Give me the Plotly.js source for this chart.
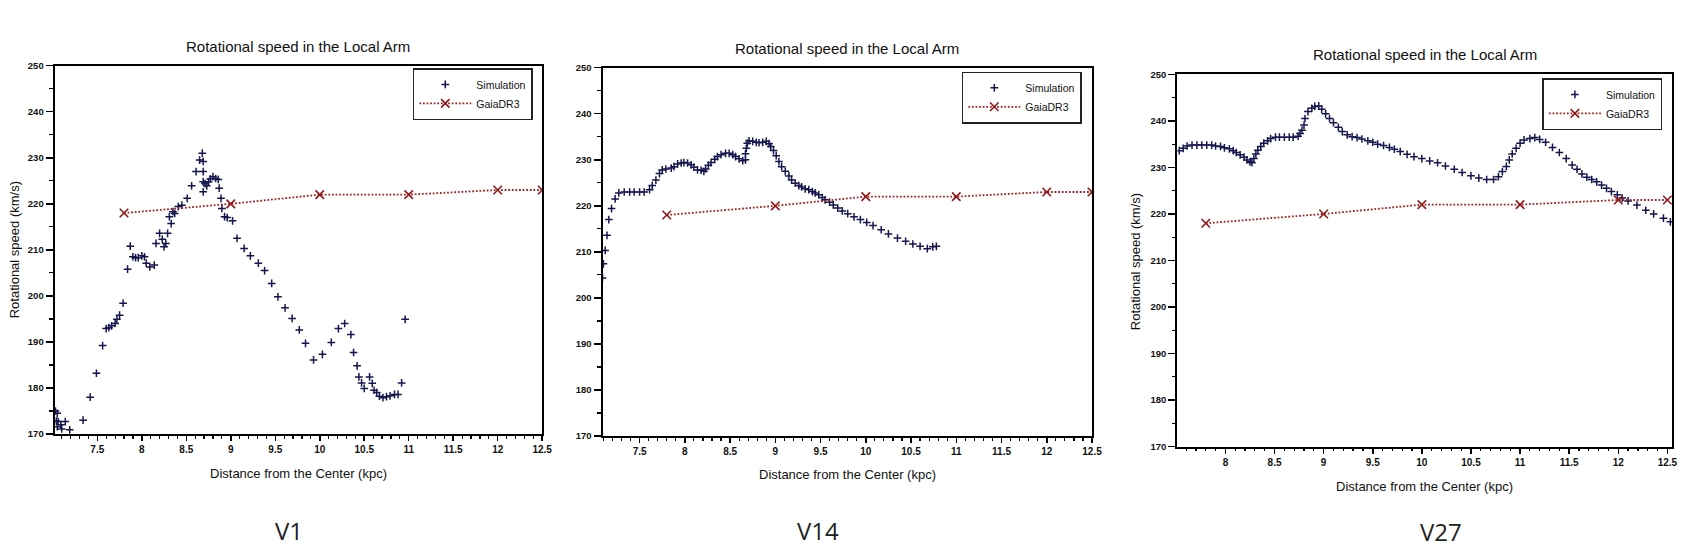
<!DOCTYPE html>
<html>
<head>
<meta charset="utf-8">
<script src="https://cdn.plot.ly/plotly-3.0.1.min.js"></script>
<style>
  html, body { margin: 0; padding: 0; background: #ffffff; }
  #chart { width: 1689px; height: 555px; }
</style>
</head>
<body>
<div id="chart"></div>
<script>
// ---------- data ----------
const gaia_r = [7.8, 9, 10, 11, 12, 12.5];
const gaia_v = [218, 220, 222, 222, 223, 223];

const v1_r = [7.03, 7.05, 7.04, 7.06, 7.09, 7.10, 7.05, 7.14, 7.19, 7.34, 7.42, 7.49, 7.56, 7.60, 7.63, 7.66, 7.70, 7.72, 7.75, 7.79,
  7.84, 7.87, 7.90, 7.93, 7.96, 8.00, 8.03, 8.05, 8.09, 8.14, 8.16, 8.20, 8.23, 8.25, 8.27, 8.29, 8.31, 8.33, 8.35, 8.37,
  8.41, 8.45, 8.51, 8.56, 8.61, 8.65, 8.68, 8.69, 8.69, 8.69, 8.69, 8.71, 8.73, 8.75, 8.77, 8.80, 8.83, 8.86, 8.87, 8.89,
  8.90, 8.93, 8.96, 9.02, 9.07, 9.15, 9.22, 9.31, 9.38, 9.46, 9.53, 9.61, 9.69, 9.77, 9.84, 9.93, 10.03, 10.13, 10.21, 10.28,
  10.35, 10.38, 10.42, 10.44, 10.47, 10.50, 10.56, 10.59, 10.61, 10.64, 10.67, 10.71, 10.75, 10.79, 10.84, 10.88, 10.92, 10.96];
const v1_v = [175.0, 174.5, 172.8, 172.7, 172.0, 171.1, 171.6, 172.7, 170.9, 173.0, 178.0, 183.2, 189.2, 192.9, 193.1, 193.5, 194.0, 194.9, 195.8, 198.4,
  205.8, 210.8, 208.5, 208.3, 208.3, 208.7, 208.5, 207.1, 206.3, 206.7, 211.4, 213.6, 212.3, 210.7, 211.4, 213.6, 217.2, 215.7, 218.3, 217.9,
  219.4, 219.7, 221.2, 223.9, 227.0, 229.5, 231.0, 229.2, 227.0, 224.8, 222.6, 224.4, 223.9, 224.8, 225.4, 225.9, 225.5, 225.3, 223.4, 221.2,
  219.0, 217.2, 217.0, 216.3, 212.5, 210.3, 208.7, 207.1, 205.5, 202.7, 199.8, 197.4, 195.1, 192.6, 189.7, 186.1, 187.3, 189.9, 192.9, 194.0,
  191.6, 187.7, 184.8, 182.4, 181.1, 179.9, 182.4, 181.0, 179.5, 179.0, 178.2, 177.9, 178.1, 178.3, 178.6, 178.6, 181.1, 194.9];

const v14_r = [7.09, 7.10, 7.12, 7.14, 7.16, 7.19, 7.23, 7.27, 7.33, 7.39, 7.44, 7.50, 7.55, 7.61, 7.64, 7.68, 7.72, 7.75, 7.79, 7.85,
  7.88, 7.92, 7.96, 7.99, 8.03, 8.07, 8.10, 8.14, 8.18, 8.21, 8.23, 8.26, 8.29, 8.33, 8.36, 8.40, 8.45, 8.49, 8.53, 8.56,
  8.60, 8.64, 8.67, 8.67, 8.68, 8.69, 8.71, 8.75, 8.79, 8.82, 8.86, 8.90, 8.93, 8.95, 8.98, 9.01, 9.04, 9.07, 9.11, 9.15,
  9.18, 9.22, 9.26, 9.29, 9.33, 9.37, 9.41, 9.44, 9.48, 9.52, 9.55, 9.60, 9.64, 9.69, 9.74, 9.80, 9.87, 9.94, 10.01, 10.08,
  10.17, 10.25, 10.35, 10.44, 10.52, 10.60, 10.68, 10.74, 10.78];
const v14_v = [204.3, 207.4, 210.3, 213.6, 217.0, 219.4, 221.5, 222.8, 223.0, 223.0, 223.0, 223.0, 223.0, 223.5, 224.4, 225.6, 227.0, 227.8, 228.0, 228.2,
  228.5, 229.1, 229.3, 229.4, 229.3, 228.9, 228.4, 227.8, 227.7, 227.5, 228.0, 228.8, 229.4, 230.1, 230.7, 231.1, 231.4, 231.4, 231.1, 230.7,
  230.2, 229.8, 230.0, 231.3, 232.5, 233.6, 234.1, 234.0, 233.8, 233.7, 233.8, 234.0, 233.5, 232.9, 232.0, 230.9, 229.6, 228.5, 227.5, 226.5,
  225.6, 224.9, 224.4, 224.1, 223.7, 223.5, 223.1, 222.8, 222.4, 221.8, 221.3, 220.8, 220.2, 219.5, 218.9, 218.3, 217.6, 217.0, 216.4, 215.7,
  214.8, 213.9, 213.0, 212.3, 211.7, 211.2, 210.7, 211.1, 211.2];

const v27_r = [7.53, 7.57, 7.61, 7.66, 7.71, 7.76, 7.81, 7.86, 7.90, 7.95, 7.99, 8.04, 8.08, 8.11, 8.15, 8.19, 8.22, 8.25, 8.27, 8.29,
  8.31, 8.33, 8.36, 8.39, 8.43, 8.46, 8.51, 8.55, 8.60, 8.65, 8.69, 8.74, 8.76, 8.78, 8.80, 8.81, 8.84, 8.88, 8.91, 8.95,
  8.98, 9.02, 9.06, 9.10, 9.15, 9.19, 9.24, 9.29, 9.34, 9.39, 9.45, 9.50, 9.55, 9.61, 9.67, 9.72, 9.78, 9.85, 9.92, 10.00,
  10.08, 10.16, 10.24, 10.33, 10.41, 10.50, 10.58, 10.66, 10.73, 10.78, 10.82, 10.86, 10.89, 10.92, 10.96, 11.00, 11.04, 11.10, 11.15, 11.20,
  11.26, 11.33, 11.40, 11.47, 11.53, 11.58, 11.63, 11.68, 11.73, 11.78, 11.83, 11.88, 11.93, 11.99, 12.04, 12.10, 12.19, 12.28, 12.36, 12.46, 12.53];
const v27_v = [233.6, 234.1, 234.6, 234.8, 234.8, 234.8, 234.8, 234.8, 234.6, 234.5, 234.2, 234.0, 233.6, 233.2, 232.7, 232.2, 231.6, 231.2, 231.0, 231.9,
  232.9, 233.7, 234.5, 235.2, 235.7, 236.2, 236.5, 236.5, 236.5, 236.5, 236.5, 236.7, 237.3, 238.0, 239.1, 240.5, 242.0, 242.7, 243.1, 243.2,
  242.5, 241.5, 240.5, 239.6, 238.6, 237.7, 237.0, 236.6, 236.4, 236.1, 235.7, 235.4, 235.0, 234.7, 234.3, 233.9, 233.4, 232.8, 232.3, 231.9,
  231.4, 231.0, 230.3, 229.6, 228.9, 228.2, 227.7, 227.4, 227.4, 228.0, 229.1, 230.2, 231.6, 232.9, 234.1, 235.2, 235.9, 236.2, 236.4, 236.0,
  235.4, 234.3, 233.2, 231.9, 230.5, 229.6, 228.6, 227.9, 227.4, 226.9, 226.2, 225.5, 224.8, 224.1, 223.4, 222.8, 221.9, 220.8, 220.0, 219.1, 218.3];

const titleText = 'Rotational speed in the Local Arm';
const xTitleText = 'Distance from the Center (kpc)';
const yTitleText = 'Rotational speed (km/s)';
const panelNames = ['V1', 'V14', 'V27'];
const seriesNames = ['Simulation', 'GaiaDR3'];

// ---------- styling ----------
const W = 1689, H = 555;
const FONT = 'Arial, "Liberation Sans", sans-serif';
const TXT = '#111111';
const SIM_COLOR = '#16164e';
const GAIA_COLOR = '#8e1b1b';
const px = v => v / W;
const py = v => 1 - v / H;

// pixel boxes of the three plot areas [left, right, top, bottom]
const boxes = [
  [54.6, 542.2, 65.7, 434.0],
  [602.5, 1092.0, 67.7, 436.0],
  [1177.3, 1672.3, 74.3, 446.7]
];
const xRanges = [[7.02, 12.5], [7.09, 12.5], [7.51, 12.55]];
const simR = [v1_r, v14_r, v27_r];
const simV = [v1_v, v14_v, v27_v];

const traces = [];
const layout = {
  width: W, height: H,
  margin: {l: 0, r: 0, t: 0, b: 0, pad: 0},
  paper_bgcolor: '#ffffff', plot_bgcolor: '#ffffff',
  font: {family: FONT, color: TXT, size: 11},
  showlegend: true,
  annotations: []
};

const legendPos = [[412.7, 68.3], [961.7, 71.7], [1542.3, 78.3]];
const titleY = [46.5, 48.7, 54.5];
const xTitleY = [473.3, 474.5, 486.0];
const panelLabelPos = [[288.6, 530], [817.8, 530], [1441, 531]];

for (let i = 0; i < 3; i++) {
  const sfx = i === 0 ? '' : String(i + 1);
  const b = boxes[i];
  const legName = 'legend' + sfx;

  traces.push({
    type: 'scatter', mode: 'markers', name: seriesNames[0],
    x: simR[i], y: simV[i],
    xaxis: 'x' + sfx, yaxis: 'y' + sfx, legend: legName,
    marker: {symbol: 'cross-thin-open', size: 5.5, color: SIM_COLOR, line: {color: SIM_COLOR, width: 1.5}}
  });
  traces.push({
    type: 'scatter', mode: 'lines+markers', name: seriesNames[1],
    x: gaia_r, y: gaia_v,
    xaxis: 'x' + sfx, yaxis: 'y' + sfx, legend: legName,
    line: {color: '#a32222', width: 1.8, dash: '1.8px,1.8px'},
    marker: {symbol: 'x-thin-open', size: 8.5, color: GAIA_COLOR, line: {color: GAIA_COLOR, width: 1.6}}
  });

  layout['xaxis' + sfx] = {
    domain: [px(b[0]), px(b[1])], anchor: 'y' + sfx,
    range: xRanges[i], tick0: 0, dtick: 0.5,
    ticks: 'outside', ticklen: 5, tickwidth: 1.5, tickcolor: '#000',
    minor: {dtick: 0.1, ticks: 'outside', ticklen: 2.5, tickwidth: 1.2, tickcolor: '#000', showgrid: false},
    showgrid: false, zeroline: false, showline: true, mirror: true,
    linecolor: '#000', linewidth: 2,
    tickfont: {family: FONT, size: 10, color: TXT, weight: 'bold'}
  };
  layout['yaxis' + sfx] = {
    domain: [py(b[3]), py(b[2])], anchor: 'x' + sfx,
    range: [170, 250], tick0: 170, dtick: 10,
    ticks: 'outside', ticklen: 7, tickwidth: 1.5, tickcolor: '#000',
    minor: {dtick: 5, ticks: 'outside', ticklen: 3.5, tickwidth: 1.2, tickcolor: '#000', showgrid: false},
    showgrid: false, zeroline: false, showline: true, mirror: true,
    linecolor: '#000', linewidth: 2,
    tickfont: {family: FONT, size: 9.5, color: TXT, weight: 'bold'}
  };
  layout[legName] = {
    x: px(legendPos[i][0]), y: py(legendPos[i][1]), xanchor: 'left', yanchor: 'top',
    xref: 'paper', yref: 'paper',
    bgcolor: '#ffffff', bordercolor: '#222222', borderwidth: 1.6,
    font: {family: FONT, size: 10.5, color: TXT},
    itemwidth: 52, tracegroupgap: 0, traceorder: 'normal'
  };

  const cx = (b[0] + b[1]) / 2;
  layout.annotations.push({
    text: titleText, xref: 'paper', yref: 'paper', x: px(cx), y: py(titleY[i]),
    xanchor: 'center', yanchor: 'middle', showarrow: false,
    font: {family: FONT, size: 15, color: TXT}
  });
  layout.annotations.push({
    text: xTitleText, xref: 'paper', yref: 'paper', x: px(cx), y: py(xTitleY[i]),
    xanchor: 'center', yanchor: 'middle', showarrow: false,
    font: {family: FONT, size: 13, color: TXT}
  });
  layout.annotations.push({
    text: panelNames[i], xref: 'paper', yref: 'paper', x: px(panelLabelPos[i][0]), y: py(panelLabelPos[i][1]),
    xanchor: 'center', yanchor: 'middle', showarrow: false,
    font: {family: '"Open Sans", "Noto Sans", sans-serif', size: 24, color: '#222'}
  });
}

// y-axis titles (panel 1 and panel 3 only)
layout.annotations.push({
  text: yTitleText, xref: 'paper', yref: 'paper', x: px(14.3), y: py(250),
  xanchor: 'center', yanchor: 'middle', textangle: -90, showarrow: false,
  font: {family: FONT, size: 13, color: TXT}
});
layout.annotations.push({
  text: yTitleText, xref: 'paper', yref: 'paper', x: px(1135.5), y: py(261.7),
  xanchor: 'center', yanchor: 'middle', textangle: -90, showarrow: false,
  font: {family: FONT, size: 13, color: TXT}
});

Plotly.newPlot('chart', traces, layout, {displayModeBar: false, staticPlot: true});
</script>
</body>
</html>
